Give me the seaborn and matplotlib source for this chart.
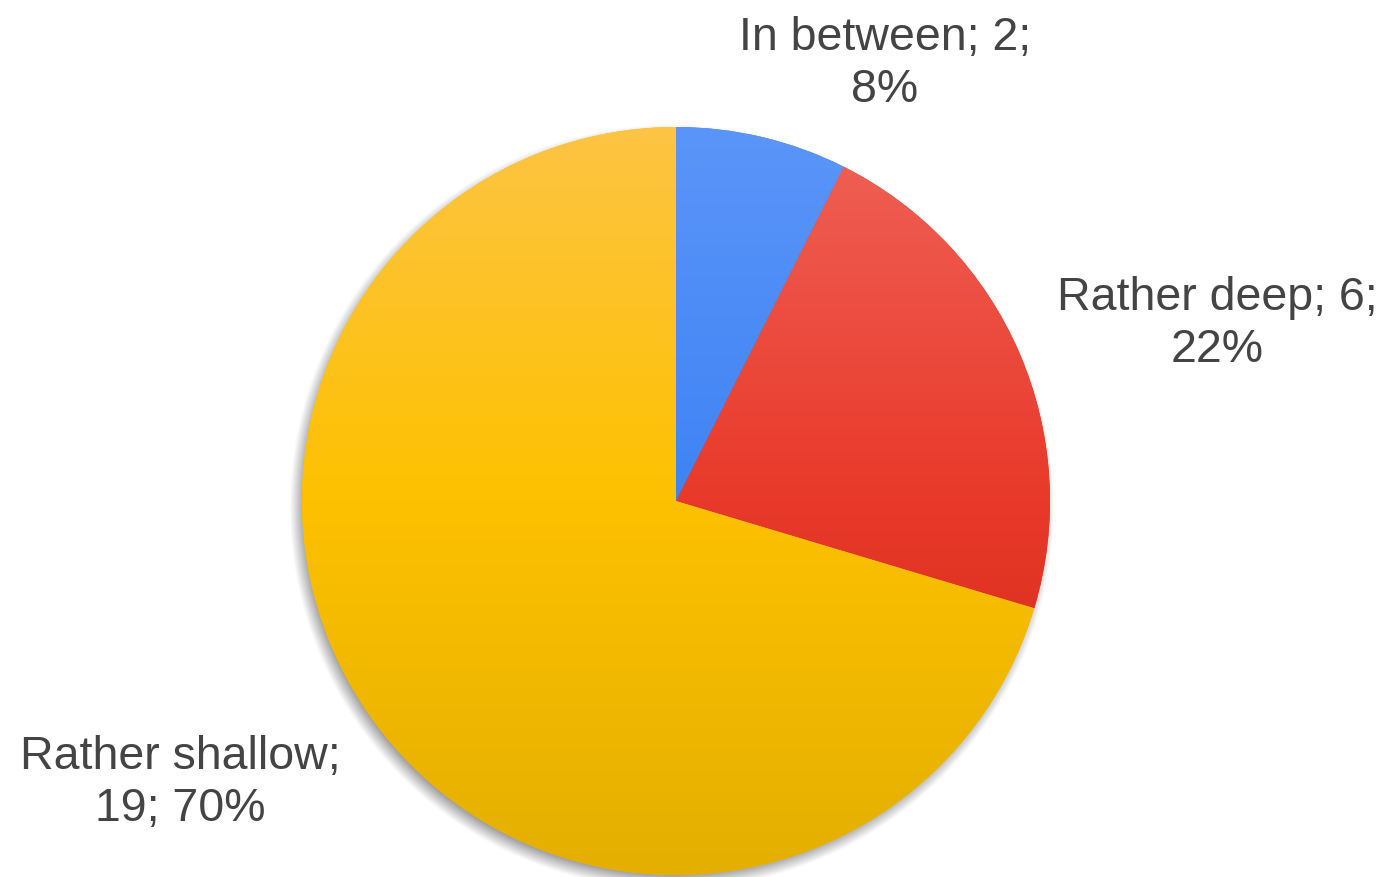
import textwrap

import matplotlib
matplotlib.use("Agg")
import matplotlib.pyplot as plt
import numpy as np
import seaborn as sns
from matplotlib.colors import to_rgb

# Survey answers: how deep the discussion went
categories = ["In between", "Rather deep", "Rather shallow"]
counts = [2, 6, 19]
percent_labels = ["8%", "22%", "70%"]

# Vertical gradient per slice: top, middle, bottom colour
top_colors = ["#5B95F9", "#F06257", "#FEC444"]
mid_colors = ["#3E83F4", "#E8392A", "#FDC100"]
bottom_colors = ["#1C5ED4", "#CF2410", "#E4AF00"]

# Label anchors (pixel coordinates, origin at top-left)
label_xy = [(885, 64), (1217, 324), (180, 783)]

sns.set_theme(style="white")
plt.rcParams["font.family"] = ["Liberation Sans", "DejaVu Sans"]

W, H = 1389, 878
fig = plt.figure(figsize=(W / 100, H / 100), dpi=100)
ax = fig.add_axes([0, 0, 1, 1])

cx, cy, r = 676, H - 502, 374

# Soft drop shadow below and left of the pie
gx = np.linspace(cx - r - 40, cx + r + 40, 600)
gy = np.linspace(cy - r - 40, cy + r + 40, 600)
XX, YY = np.meshgrid(gx, gy)
d = np.hypot(XX - (cx - 4), YY - (cy - 6))
blur = 9.0
shadow_alpha = np.clip((r + blur - d) / (2 * blur), 0, 1) * 0.45
shadow = np.zeros((600, 600, 4))
shadow[..., 3] = shadow_alpha
ax.imshow(shadow, extent=(gx[0], gx[-1], gy[0], gy[-1]), origin="lower",
          interpolation="bilinear", zorder=1)

wedges, _ = ax.pie(counts, startangle=90, counterclock=False,
                   center=(cx, cy), radius=r,
                   wedgeprops=dict(linewidth=0))

n = 400
t = np.linspace(0, 1, n)
for w, c_top, c_mid, c_bot in zip(wedges, top_colors, mid_colors, bottom_colors):
    stops = np.array([to_rgb(c_top), to_rgb(c_mid), to_rgb(c_bot)])
    grad = np.stack([np.interp(t, [0, 0.5, 1], stops[:, k]) for k in range(3)],
                    axis=-1)[:, None, :]
    w.set_facecolor(tuple(stops[1]))
    w.set_edgecolor("none")
    w.set_zorder(2)
    im = ax.imshow(grad, extent=(cx - r, cx + r, cy - r, cy + r),
                   origin="upper", aspect="auto", zorder=3,
                   interpolation="bilinear")
    im.set_clip_path(w)

for cat, cnt, pct, (lx, ly) in zip(categories, counts, percent_labels, label_xy):
    text = "\n".join(textwrap.wrap(f"{cat}; {cnt}; {pct}", width=15))
    ax.text(lx, H - ly, text, ha="center", va="center", fontsize=33.5,
            color="#444444", linespacing=1.22, zorder=5)

ax.set_xlim(0, W)
ax.set_ylim(0, H)
ax.set_aspect("equal")
ax.axis("off")

fig.savefig("out.png", dpi=100, facecolor="white")
